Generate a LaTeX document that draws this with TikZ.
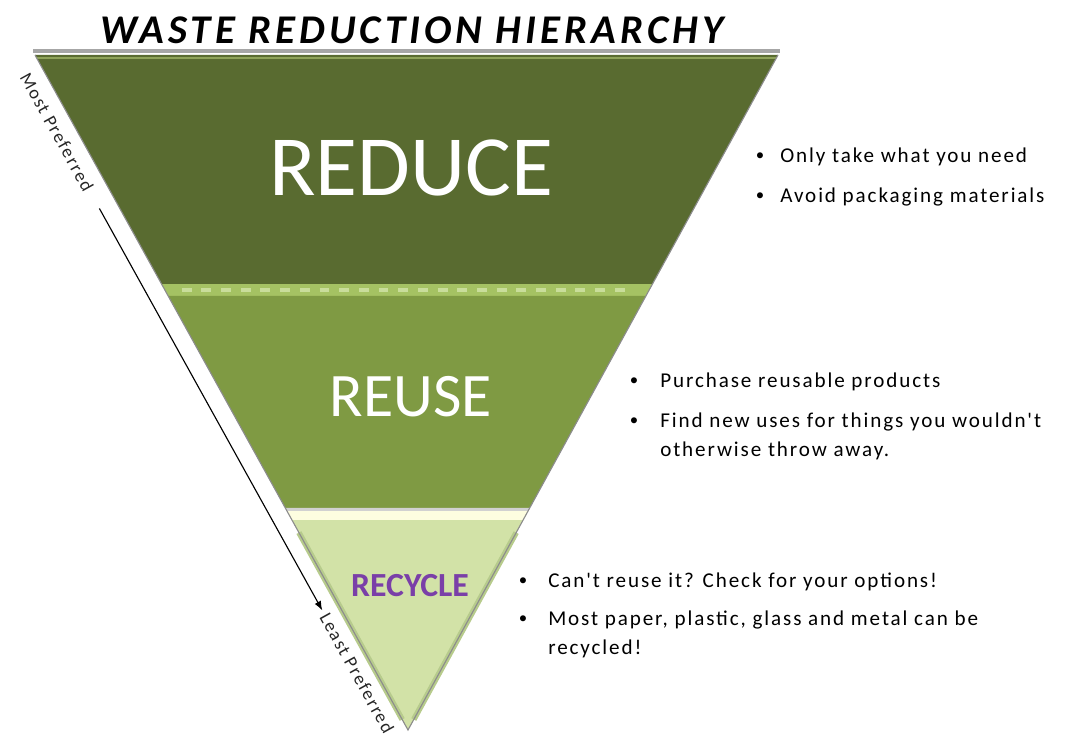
\documentclass[tikz,border=0pt]{standalone}
\usepackage{fontspec}
\setmainfont{Carlito}
\newfontfamily\notefont[LetterSpace=9]{Carlito}
\newfontfamily\titlefont[LetterSpace=10]{Carlito}
\usetikzlibrary{positioning,arrows.meta,calc}
\definecolor{reducegreen}{RGB}{89,107,48}
\definecolor{reusegreen}{RGB}{127,154,67}
\definecolor{recyclegreen}{RGB}{210,226,167}
\definecolor{recycleedge}{RGB}{183,203,140}
\definecolor{sepgreen}{RGB}{165,194,99}
\definecolor{sepdash}{RGB}{201,221,155}
\definecolor{toprim}{RGB}{143,163,90}
\definecolor{creamband}{RGB}{253,253,224}
\definecolor{labelpurple}{RGB}{122,63,168}
\tikzset{
    bigword/.style={
        text=white,
        inner sep=0pt
    },
    note/.style={
        anchor=west,
        align=left,
        inner sep=0pt,
        font=\notefont\fontsize{15}{20}\selectfont
    },
    dotmark/.style={
        anchor=center,
        inner sep=0pt,
        font=\fontsize{12}{12}\selectfont
    },
    sidenote/.style={
        rotate=-61,
        inner sep=1pt,
        text=black!85,
        font=\notefont\fontsize{13}{13}\selectfont
    },
    arr/.style={->,thick,black,>=Latex}
}

\begin{document}
\begin{tikzpicture}[x=0.025cm,y=-0.025cm]
\useasboundingbox (0,0) rectangle (1091,747);

% triangle corners
\coordinate (TL) at (35,55);
\coordinate (TR) at (778,55);
\coordinate (A) at (408,730);

% band limits along the edges
\coordinate (L1) at ($(TL)!0.3393!(A)$);
\coordinate (R1) at ($(TR)!0.3393!(A)$);
\coordinate (L2) at ($(TL)!0.3570!(A)$);
\coordinate (R2) at ($(TR)!0.3570!(A)$);
\coordinate (L3) at ($(TL)!0.6711!(A)$);
\coordinate (R3) at ($(TR)!0.6711!(A)$);
\coordinate (L4) at ($(TL)!0.6756!(A)$);
\coordinate (R4) at ($(TR)!0.6756!(A)$);
\coordinate (L5) at ($(TL)!0.6889!(A)$);
\coordinate (R5) at ($(TR)!0.6889!(A)$);

\fill[reducegreen] (TL) -- (TR) -- (R1) -- (L1) -- cycle;
\fill[sepgreen] (L1) -- (R1) -- (R2) -- (L2) -- cycle;
\draw[sepdash,line width=2.5pt,dash pattern=on 7pt off 7pt,shorten <=12pt,shorten >=12pt]
    ($(L1)!0.5!(L2)$) -- ($(R1)!0.5!(R2)$);
\fill[reusegreen] (L2) -- (R2) -- (R3) -- (L3) -- cycle;
\fill[black!18] (L3) -- (R3) -- (R4) -- (L4) -- cycle;
\fill[creamband] (L4) -- (R4) -- (R5) -- (L5) -- cycle;
\fill[recyclegreen] (L5) -- (R5) -- (A) -- cycle;
\draw[recycleedge,line width=4pt] ($(L5)!0.06!(A)$) -- ($(A)!0.05!(L5)$);
\draw[recycleedge,line width=4pt] ($(R5)!0.06!(A)$) -- ($(A)!0.05!(R5)$);

% rim
\draw[black!35,line width=2.5pt] (33,51) -- (780,51);
\draw[toprim,line width=2pt] ($(TL)+(2,3)$) -- ($(TR)+(-2,3)$);
\draw[black!45,line width=0.8pt] (TL) -- (A) -- (TR);

% title
\node (title) at (412,30) {\titlefont\bfseries\itshape\fontsize{29}{29}\selectfont WASTE REDUCTION HIERARCHY};

% tier labels
\node[bigword,font=\fontsize{61}{61}\selectfont] (reduce) at (411,168) {REDUCE};
\node[bigword,font=\fontsize{44}{44}\selectfont] (reuse) at (411,397) {REUSE};
\node[bigword,text=labelpurple,font=\bfseries\fontsize{24}{24}\selectfont] (recycle) at (410,586) {RECYCLE};

% notes
\node[dotmark] (d1) at (760,157) {\textbullet};
\node[note] (n1) at (780,157) {Only take what you need};
\node[dotmark] (d2) at (760,197) {\textbullet};
\node[note] (n2) at (780,197) {Avoid packaging materials};

\node[dotmark] (d3) at (634,382) {\textbullet};
\node[note] (n3) at (660,382) {Purchase reusable products};
\node[dotmark] (d4) at (634,422) {\textbullet};
\node[note,anchor=north west] (n4) at (660,413) {Find new uses for things you wouldn't\\otherwise throw away.};

\node[dotmark] (d5) at (523,582) {\textbullet};
\node[note] (n5) at (548,582) {Can't reuse it? Check for your options!};
\node[dotmark] (d6) at (523,620) {\textbullet};
\node[note,anchor=north west] (n6) at (548,611) {Most paper, plastic, glass and metal can be\\recycled!};

% preference arrow
\node[sidenote] (most) at (57,132) {Most Preferred};
\node[sidenote] (least) at (357,673) {Least Preferred};
\draw[arr,shorten <=14pt,shorten >=2pt] (most.east) -- (least.west);
\end{tikzpicture}
\end{document}
